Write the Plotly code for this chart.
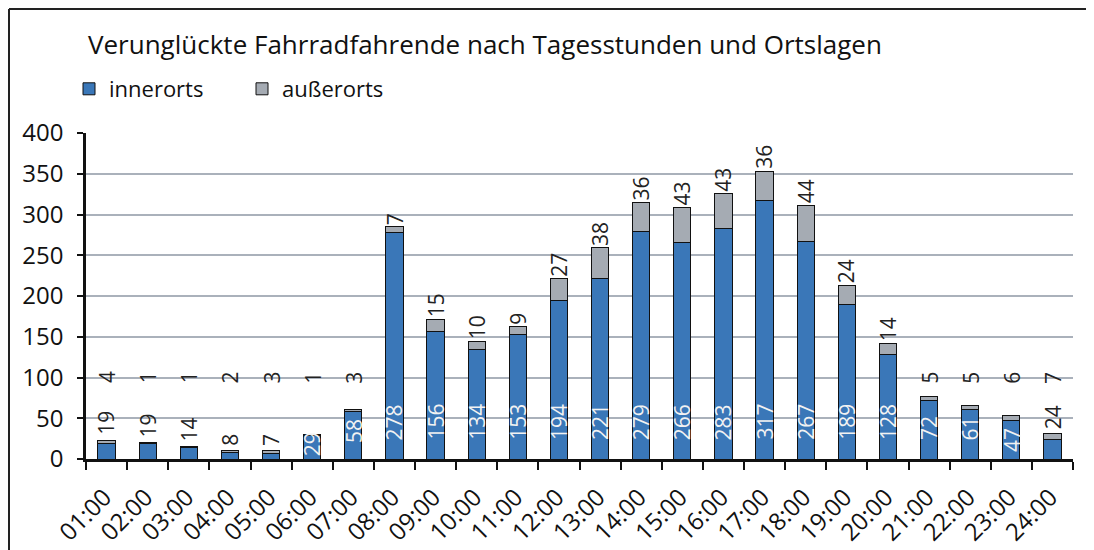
import plotly.graph_objects as go

hours = ["01:00", "02:00", "03:00", "04:00", "05:00", "06:00", "07:00", "08:00",
         "09:00", "10:00", "11:00", "12:00", "13:00", "14:00", "15:00", "16:00",
         "17:00", "18:00", "19:00", "20:00", "21:00", "22:00", "23:00", "24:00"]
innerorts = [19, 19, 14, 8, 7, 29, 58, 278, 156, 134, 153, 194, 221, 279, 266, 283,
             317, 267, 189, 128, 72, 61, 47, 24]
ausserorts = [4, 1, 1, 2, 3, 1, 3, 7, 15, 10, 9, 27, 38, 36, 43, 43, 36, 44, 24, 14,
              5, 5, 6, 7]
y_ticks = [0, 50, 100, 150, 200, 250, 300, 350, 400]

BLUE = "#3A77B8"
GRAY = "#A5ABB3"
FONT = "Open Sans"

W, H = 1094, 550
OFF = 8  # page body margin offset
ML, MT = 86 - OFF, 133 - OFF
PLOT_R, PLOT_B = 1073 - OFF, 459 - OFF
MR, MB = W - PLOT_R, H - PLOT_B
PW, PH = W - ML - MR, H - MT - MB
YMAX = 400
u_per_px = YMAX / PH

fig = go.Figure()
fig.add_trace(go.Bar(x=hours, y=innerorts, name="innerorts",
                     marker=dict(color=BLUE, line=dict(color="#111111", width=1))))
fig.add_trace(go.Bar(x=hours, y=ausserorts, name="außerorts",
                     marker=dict(color=GRAY, line=dict(color="#111111", width=1))))

annotations = []
lab_font = dict(family=FONT, size=21)
for h, a, b in zip(hours, innerorts, ausserorts):
    total = a + b
    label_px = 12 * len(str(a))
    bar_px = a / u_per_px
    if a >= 29:
        off_px = min(17, max(1, bar_px - label_px - 9))
        annotations.append(dict(x=h, y=off_px * u_per_px, text=str(a), showarrow=False,
                                textangle=-90, yanchor="bottom", xanchor="center",
                                font=dict(lab_font, color="#F2F2F2")))
    else:
        annotations.append(dict(x=h, y=total, text=str(a), showarrow=False,
                                textangle=-90, yanchor="bottom", xanchor="center",
                                yshift=3, font=dict(lab_font, color="#222222")))
    if total >= 100:
        annotations.append(dict(x=h, y=total, text=str(b), showarrow=False,
                                textangle=-90, yanchor="bottom", xanchor="center",
                                font=dict(lab_font, color="#222222")))
    else:
        annotations.append(dict(x=h, y=100, text=str(b), showarrow=False,
                                textangle=-90, yanchor="middle", xanchor="center",
                                font=dict(lab_font, color="#222222")))

# outer frame (top and left border of the chart box), in figure pixels
def px_x(p):
    return (p - ML) / PW

def px_y(p):
    return (H - MB - p) / PH

shapes = [
    dict(type="line", xref="paper", yref="paper", x0=px_x(1), x1=px_x(W),
         y0=px_y(1), y1=px_y(1), line=dict(color="#222222", width=2)),
    dict(type="line", xref="paper", yref="paper", x0=px_x(1), x1=px_x(1),
         y0=px_y(1), y1=px_y(H), line=dict(color="#222222", width=2)),
]

fig.update_layout(
    width=W, height=H,
    margin=dict(l=ML, r=MR, t=MT, b=MB, autoexpand=False),
    paper_bgcolor="white", plot_bgcolor="white",
    barmode="stack", bargap=0.58,
    font=dict(family=FONT, color="#111111"),
    title=dict(text="Verunglückte Fahrradfahrende nach Tagesstunden und Ortslagen",
               xref="container", yref="container", x=80 / W, xanchor="left",
               y=1 - 37 / H, yanchor="middle",
               font=dict(family=FONT, size=26, color="#111111")),
    legend=dict(orientation="h", xref="container", yref="container",
                x=61 / W, xanchor="left", y=1 - 81 / H, yanchor="middle",
                font=dict(family=FONT, size=22, color="#111111"),
                itemwidth=30, entrywidth=128, traceorder="normal",
                bgcolor="rgba(0,0,0,0)"),
    xaxis=dict(type="category", showline=True, linecolor="#111111", linewidth=2.5,
               ticks="outside", tickson="boundaries", ticklen=8, tickwidth=2,
               tickcolor="#111111", tickangle=-45, automargin=False,
               ticklabelstandoff=12, ticklabelshift=-2,
               tickfont=dict(family=FONT, size=24, color="#111111"),
               showgrid=False),
    yaxis=dict(range=[0, YMAX], tickvals=y_ticks, showline=True, linecolor="#111111",
               linewidth=2.5, ticks="outside", ticklen=6, tickwidth=2,
               tickcolor="#111111", showgrid=True, gridcolor="#AAB1BB", gridwidth=1.5,
               zeroline=False, ticklabelstandoff=9, automargin=False,
               tickfont=dict(family=FONT, size=24, color="#111111")),
    annotations=annotations,
    shapes=shapes,
    showlegend=True,
)

fig.write_html("out.html")
